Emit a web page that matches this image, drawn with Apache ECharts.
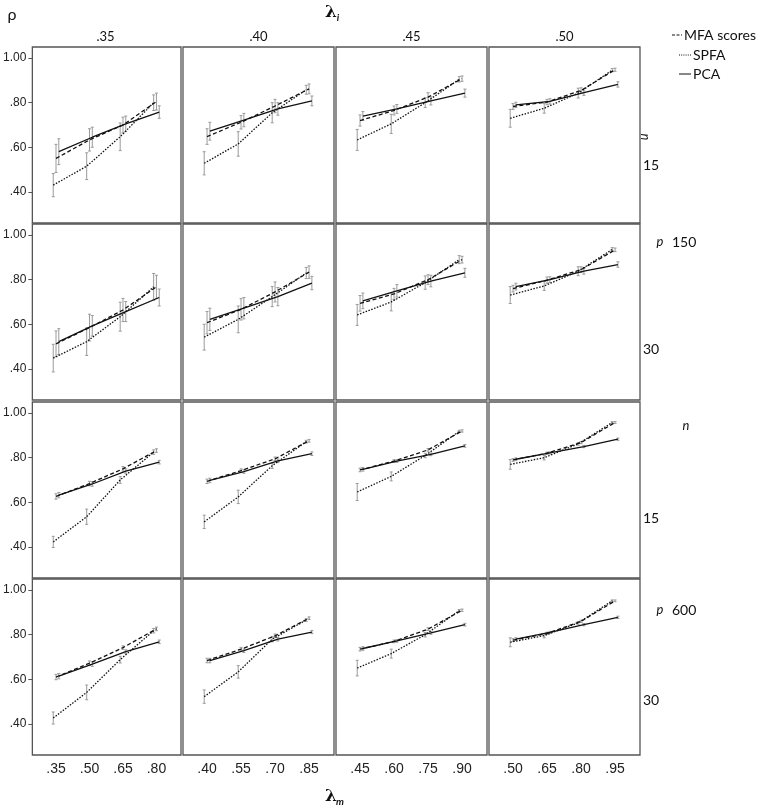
<!DOCTYPE html>
<html><head><meta charset="utf-8">
<script src="https://cdn.jsdelivr.net/npm/echarts@6/dist/echarts.min.js"></script>
<style>html,body{margin:0;padding:0;background:#fff}#c{width:765px;height:812px}</style>
</head><body><div id="c"></div>
<script>
// ---- data ----
const colHeaders = ['.35', '.40', '.45', '.50'];
const xTicks = [[0.35,0.50,0.65,0.80],[0.40,0.55,0.70,0.85],[0.45,0.60,0.75,0.90],[0.50,0.65,0.80,0.95]];
const xTickLabels = [['.35','.50','.65','.80'],['.40','.55','.70','.85'],['.45','.60','.75','.90'],['.50','.65','.80','.95']];
const yTicks = [0.4, 0.6, 0.8, 1.0];
const yTickLabels = ['.40', '.60', '.80', '1.00'];
const seriesNames = ['MFA scores', 'SPFA', 'PCA'];
// panel index = row*4 + col
const mfaMean = [
 [0.55,0.633,0.70,0.805],[0.648,0.712,0.785,0.862],[0.72,0.765,0.825,0.908],[0.783,0.803,0.855,0.948],
 [0.512,0.585,0.664,0.768],[0.607,0.667,0.745,0.834],[0.694,0.736,0.80,0.89],[0.76,0.798,0.845,0.934],
 [0.626,0.684,0.75,0.832],[0.694,0.742,0.795,0.876],[0.745,0.785,0.835,0.92],[0.79,0.82,0.868,0.958],
 [0.61,0.672,0.742,0.826],[0.684,0.735,0.795,0.874],[0.735,0.77,0.825,0.91],[0.776,0.806,0.86,0.952]];
const mfaErr = [
 [0.063,0.05,0.035,0.038],[0.035,0.03,0.03,0.022],[0.025,0.02,0.02,0.012],[0.013,0.012,0.012,0.007],
 [0.058,0.06,0.052,0.052],[0.05,0.048,0.045,0.028],[0.035,0.025,0.022,0.015],[0.015,0.014,0.013,0.008],
 [0.012,0.01,0.01,0.008],[0.01,0.008,0.008,0.006],[0.008,0.006,0.006,0.005],[0.006,0.005,0.005,0.004],
 [0.012,0.01,0.008,0.008],[0.01,0.008,0.008,0.006],[0.008,0.006,0.006,0.005],[0.006,0.005,0.005,0.004]];
const spfaMean = [
 [0.43,0.515,0.647,0.80],[0.528,0.615,0.755,0.858],[0.633,0.705,0.80,0.905],[0.73,0.775,0.843,0.946],
 [0.448,0.522,0.634,0.768],[0.542,0.622,0.724,0.83],[0.642,0.70,0.787,0.89],[0.731,0.772,0.838,0.936],
 [0.422,0.535,0.70,0.825],[0.512,0.624,0.764,0.872],[0.646,0.716,0.81,0.918],[0.77,0.80,0.862,0.958],
 [0.426,0.541,0.688,0.818],[0.522,0.633,0.78,0.866],[0.65,0.715,0.80,0.908],[0.766,0.796,0.853,0.952]];
const spfaErr = [
 [0.052,0.06,0.062,0.035],[0.052,0.055,0.045,0.02],[0.047,0.043,0.022,0.012],[0.04,0.022,0.022,0.007],
 [0.062,0.062,0.065,0.06],[0.058,0.06,0.045,0.025],[0.047,0.04,0.03,0.018],[0.038,0.02,0.02,0.008],
 [0.025,0.034,0.015,0.01],[0.03,0.03,0.012,0.006],[0.038,0.02,0.01,0.005],[0.022,0.01,0.006,0.004],
 [0.027,0.033,0.015,0.01],[0.03,0.028,0.012,0.006],[0.035,0.02,0.01,0.005],[0.02,0.01,0.006,0.004]];
const pcaMean = [
 [0.58,0.645,0.705,0.758],[0.672,0.722,0.772,0.808],[0.74,0.772,0.808,0.843],[0.79,0.806,0.845,0.882],
 [0.522,0.593,0.657,0.72],[0.622,0.672,0.724,0.785],[0.705,0.75,0.794,0.831],[0.769,0.80,0.838,0.868],
 [0.632,0.682,0.74,0.78],[0.698,0.738,0.786,0.818],[0.748,0.785,0.815,0.853],[0.793,0.822,0.85,0.883],
 [0.614,0.668,0.724,0.768],[0.684,0.728,0.78,0.812],[0.738,0.772,0.808,0.845],[0.78,0.81,0.845,0.878]];
const pcaErr = [
 [0.058,0.045,0.035,0.028],[0.04,0.03,0.028,0.022],[0.02,0.02,0.018,0.018],[0.012,0.012,0.012,0.012],
 [0.058,0.046,0.045,0.038],[0.05,0.048,0.041,0.03],[0.035,0.028,0.026,0.02],[0.015,0.013,0.013,0.012],
 [0.012,0.01,0.01,0.008],[0.01,0.008,0.008,0.008],[0.008,0.006,0.006,0.006],[0.006,0.005,0.005,0.005],
 [0.012,0.01,0.008,0.008],[0.01,0.008,0.008,0.007],[0.008,0.006,0.006,0.006],[0.006,0.005,0.005,0.005]];

// ---- layout / style ----
const colLefts = [30, 183, 336, 489];
const rowTops = [47, 224, 402, 579];
const panelW = 151, panelH = 176;
const dodge = [0, -0.0125, 0.0125]; // MFA, SPFA, PCA
const lineTypes = [[4, 2.5], [1.5, 1.5], 'solid'];
const tickFont = 'Liberation Sans, Arial, sans-serif';
const textFont = 'Lato, Open Sans, sans-serif';

const chart = echarts.init(document.getElementById('c'), null, {renderer: 'canvas'});
const grid = [], xAxis = [], yAxis = [], series = [];
const means = [mfaMean, spfaMean, pcaMean];
const errs = [mfaErr, spfaErr, pcaErr];

for (let r = 0; r < 4; r++) {
  for (let c = 0; c < 4; c++) {
    const p = r * 4 + c;
    grid.push({left: colLefts[c], top: rowTops[r], width: panelW, height: panelH,
      show: true, borderColor: '#555', borderWidth: 1.3, backgroundColor: '#fff', containLabel: false});
    const xmin = xTicks[c][0] - 0.106;
    xAxis.push({type: 'value', gridIndex: p, min: xmin, max: xmin + 0.666,
      splitLine: {show: false}, axisLine: {show: false},
      axisTick: {show: false},
      axisLabel: {show: r === 3, customValues: xTicks[c], margin: 7,
        fontFamily: tickFont, fontSize: 14, color: '#222',
        formatter: v => { const i = xTicks[c].findIndex(t => Math.abs(t - v) < 1e-6); return i >= 0 ? xTickLabels[c][i] : ''; }}});
    yAxis.push({type: 'value', gridIndex: p, min: 0.26, max: 1.05,
      splitLine: {show: false}, axisLine: {show: false},
      axisTick: {show: c === 0, customValues: yTicks, length: 4, inside: false, lineStyle: {color: '#555'}},
      axisLabel: {show: c === 0, customValues: yTicks, margin: 6,
        fontFamily: tickFont, fontSize: 12, color: '#222',
        formatter: v => { const i = yTicks.findIndex(t => Math.abs(t - v) < 1e-6); return i >= 0 ? yTickLabels[i] : ''; }}});
    for (let s = 0; s < 3; s++) {
      const m = means[s][p], e = errs[s][p];
      // error bars
      series.push({type: 'custom', name: seriesNames[s] + ' CI', xAxisIndex: p, yAxisIndex: p, z: 2,
        data: xTicks[c].map((x, i) => [x + dodge[s], m[i] - e[i], m[i] + e[i]]),
        encode: {x: 0, y: [1, 2]},
        renderItem: (params, api) => {
          const x = api.value(0);
          const a = api.coord([x, api.value(1)]);
          const b = api.coord([x, api.value(2)]);
          const st = {stroke: '#9a9a9a', lineWidth: 1};
          return {type: 'group', children: [
            {type: 'line', shape: {x1: a[0], y1: a[1], x2: b[0], y2: b[1]}, style: st},
            {type: 'line', shape: {x1: a[0] - 1.5, y1: a[1], x2: a[0] + 1.5, y2: a[1]}, style: st},
            {type: 'line', shape: {x1: b[0] - 1.5, y1: b[1], x2: b[0] + 1.5, y2: b[1]}, style: st}
          ]};
        }});
      series.push({type: 'line', name: seriesNames[s], xAxisIndex: p, yAxisIndex: p, z: 3,
        data: xTicks[c].map((x, i) => [x + dodge[s], m[i]]),
        symbol: 'none', silent: true,
        lineStyle: {color: '#111', width: 1.3, type: lineTypes[s]}});
    }
  }
}

const graphic = [];
function txt(x, y, t, o) {
  graphic.push(Object.assign({type: 'text', x: x, y: y,
    style: Object.assign({text: t, fontFamily: textFont, fontSize: 13, fill: '#111', align: 'center', verticalAlign: 'middle'}, o || {})}));
}
txt(12, 15, 'ρ', {fontSize: 16});
txt(331, 13, 'λ', {fontSize: 17, fontWeight: 'bold', fontFamily: 'DejaVu Serif, serif'});
txt(338, 18, 'i', {fontSize: 10, fontStyle: 'italic', fontWeight: 'bold'});
txt(331, 797, 'λ', {fontSize: 17, fontWeight: 'bold', fontFamily: 'DejaVu Serif, serif'});
txt(340, 802, 'm', {fontSize: 10, fontStyle: 'italic', fontWeight: 'bold'});
colHeaders.forEach((h, c) => txt(colLefts[c] + panelW / 2, 37, h, {fontSize: 13}));
// legend
const legY = [35, 55, 74];
const legX1 = [672, 679, 679], legX2 = [682, 691, 691], legTX = [684, 693, 693];
const legDash = [[3, 1.5], [1, 1.2], null];
for (let s = 0; s < 3; s++) {
  graphic.push({type: 'line', shape: {x1: legX1[s], y1: legY[s], x2: legX2[s], y2: legY[s]},
    style: {stroke: '#111', lineWidth: 1, lineDash: legDash[s]}});
  txt(legTX[s], legY[s], seriesNames[s], {align: 'left', fontSize: 14});
}
// right-side panel labels
graphic.push({type: 'text', x: 645, y: 137, rotation: -Math.PI / 2,
  style: {text: 'n', fontFamily: textFont, fontSize: 13, fontStyle: 'italic', fill: '#111', align: 'center', verticalAlign: 'middle'}});
txt(643, 165, '15', {align: 'left', fontSize: 14});
txt(660, 242, 'p', {fontStyle: 'italic'});
txt(672, 242, '150', {align: 'left', fontSize: 14});
txt(643, 349, '30', {align: 'left', fontSize: 14});
txt(686, 426, 'n', {fontStyle: 'italic'});
txt(643, 518, '15', {align: 'left', fontSize: 14});
txt(660, 610, 'p', {fontStyle: 'italic'});
txt(672, 610, '600', {align: 'left', fontSize: 14});
txt(643, 700, '30', {align: 'left', fontSize: 14});

chart.setOption({animation: false, backgroundColor: '#fff', grid, xAxis, yAxis, series, graphic});
</script></body></html>
